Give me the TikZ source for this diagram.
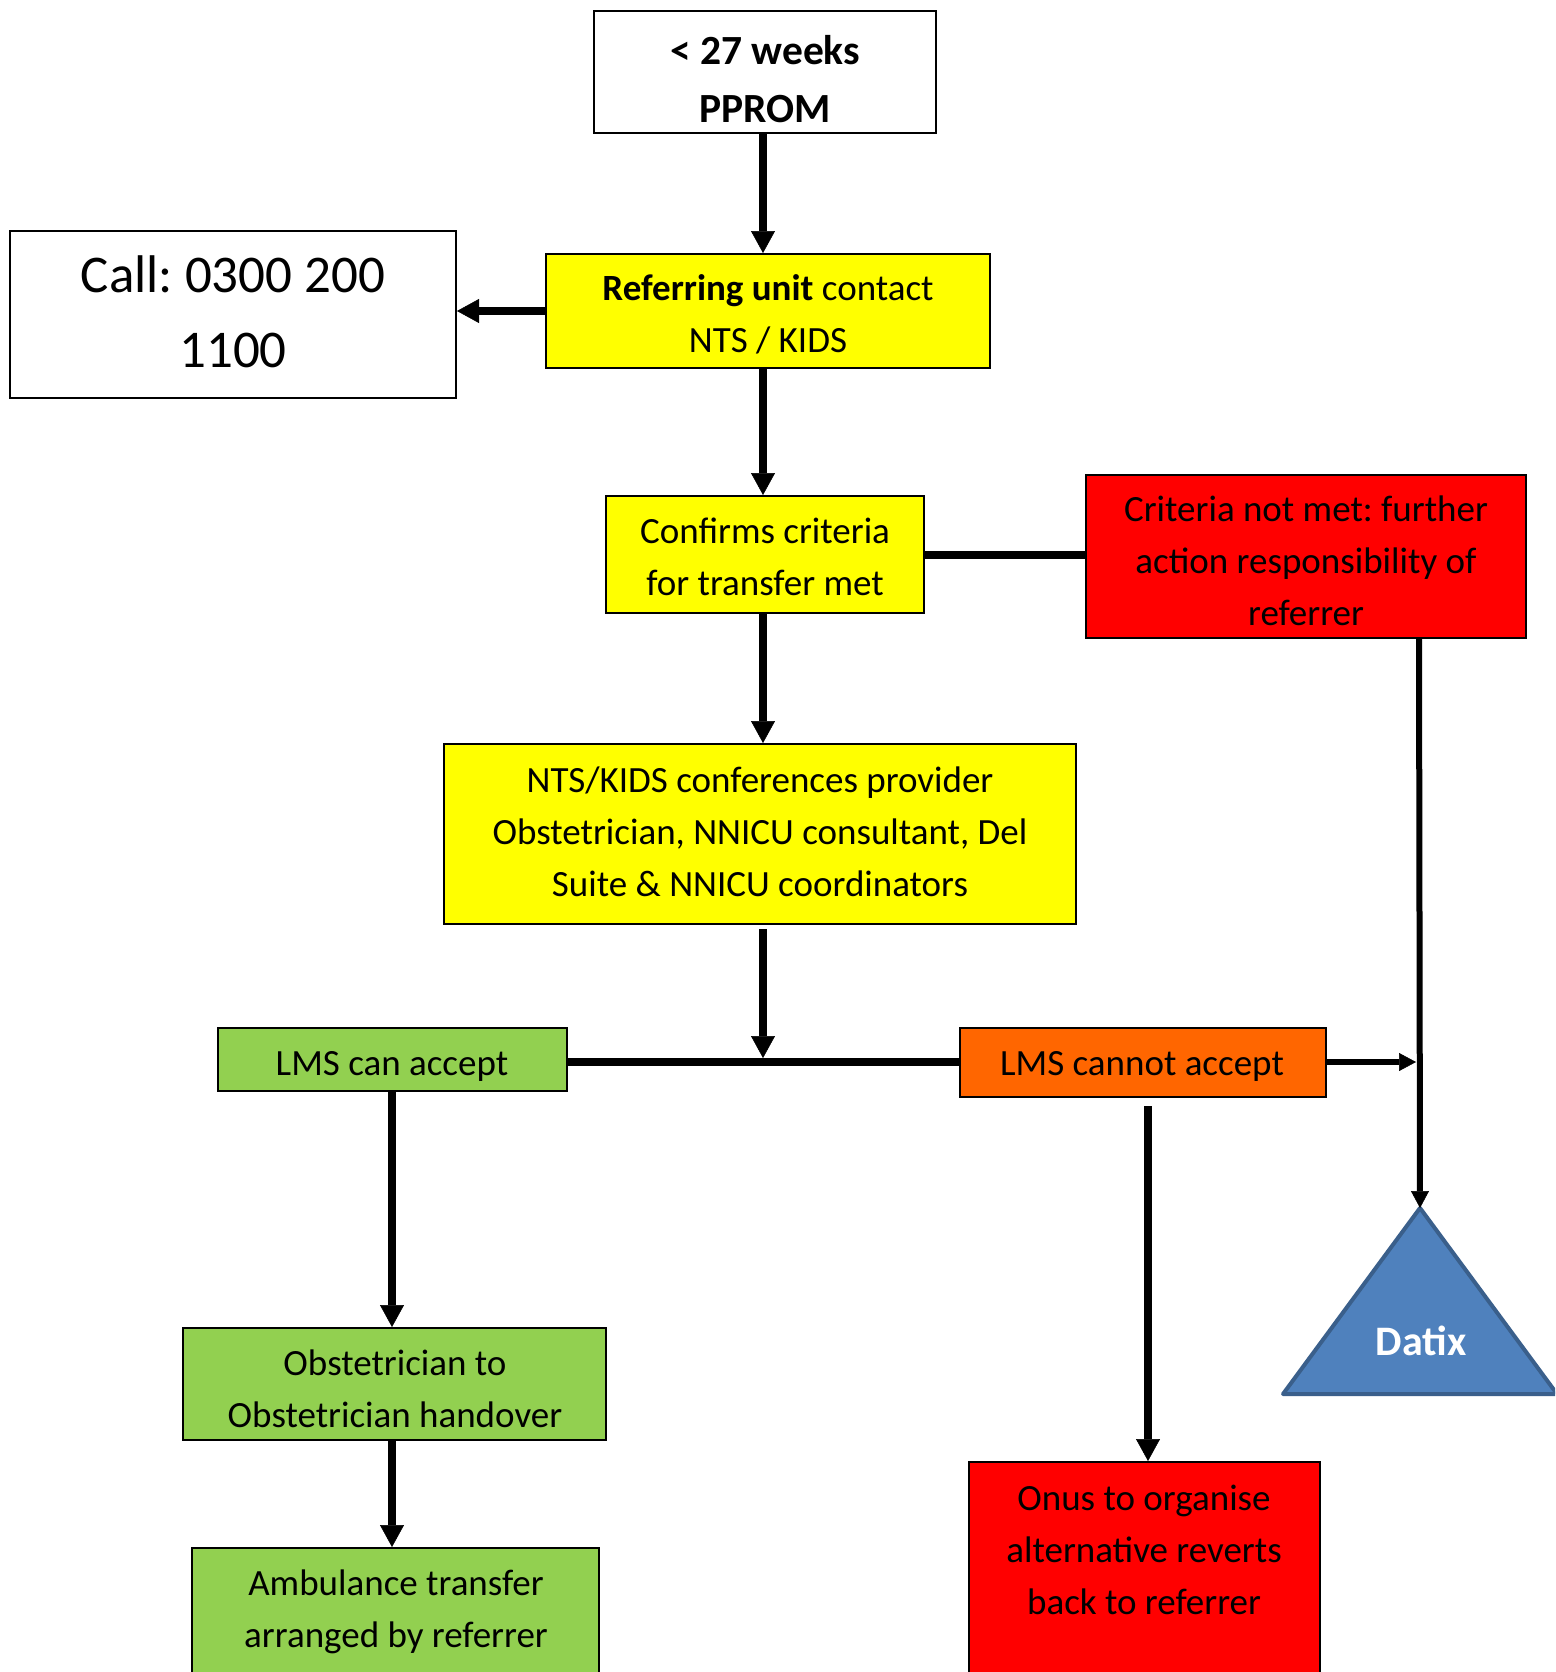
\documentclass[tikz,border=0pt]{standalone}
\usepackage{fontspec}
\setmainfont{Carlito}
\usetikzlibrary{arrows.meta,calc}
\frenchspacing
\definecolor{boxyellow}{HTML}{FFFF00}
\definecolor{boxred}{HTML}{FF0000}
\definecolor{boxgreen}{HTML}{92D050}
\definecolor{boxorange}{HTML}{FF6600}
\definecolor{datixfill}{HTML}{4F81BD}
\definecolor{datixline}{HTML}{3A5F8B}
\tikzset{
  box/.style={draw=black, line width=2pt, inner sep=0pt},
  txt/.style={align=center, inner sep=0pt, text=black},
  normtxt/.style={txt, font=\fontsize{37}{52}\selectfont},
  bigarrow/.style={line width=8pt, -{Triangle[width=24pt,length=22pt,line width=0.5pt]}},
  bigline/.style={line width=8pt},
  smallarrow/.style={line width=6pt, -{Triangle[width=18pt,length=17pt,line width=0.5pt]}},
}
\begin{document}
\begin{tikzpicture}[x=1pt,y=-1pt]
\useasboundingbox (0,0) rectangle (1555,1672);
\clip (0,0) rectangle (1555,1672);
\fill[white] (0,0) rectangle (1555,1672);

% boxes
\node[box, fill=white, minimum width=342pt, minimum height=122pt] (top) at (765,72) {};
\node[box, fill=white, minimum width=446pt, minimum height=167pt] (call) at (233,314.5) {};
\node[box, fill=boxyellow, minimum width=444pt, minimum height=114pt] (ref) at (768,311) {};
\node[box, fill=boxyellow, minimum width=318pt, minimum height=117pt] (conf) at (765,554.5) {};
\node[box, fill=boxred, minimum width=440pt, minimum height=163pt] (crit) at (1306,556.5) {};
\node[box, fill=boxyellow, minimum width=632pt, minimum height=180pt] (nts) at (760,834) {};
\node[box, fill=boxgreen, minimum width=349pt, minimum height=63pt] (lmscan) at (392.5,1059.5) {};
\node[box, fill=boxorange, minimum width=366pt, minimum height=69pt] (lmsnot) at (1143,1062.5) {};
\node[box, fill=boxgreen, minimum width=423pt, minimum height=112pt] (obst) at (394.5,1384) {};
\node[box, fill=boxgreen, minimum width=407pt, minimum height=152pt] (amb) at (395.5,1624) {};
\node[box, fill=boxred, minimum width=351pt, minimum height=238pt] (onus) at (1144.5,1581) {};

% Datix triangle
\coordinate (datixtop) at (1420,1208);
\coordinate (datixleft) at (1283,1394);
\coordinate (datixright) at (1557,1394);
\filldraw[fill=datixfill, draw=datixline, line width=4pt, line join=round] (datixtop) -- (datixleft) -- (datixright) -- cycle;

% texts
\node[txt, font=\fontsize{41.5}{58}\selectfont\bfseries] (topT) at (765,81.5) {\strut< 27 weeks\\\strut PPROM};
\node[txt, font=\fontsize{53}{75}\selectfont] (callT) at (233,315) {\strut Call: 0300 200\\\strut 1100};
\node[normtxt] (refT) at (768,316.5) {\strut\textbf{Referring unit} contact\\\strut NTS / KIDS};
\node[normtxt] (confT) at (765,559) {\strut Confirms criteria\\\strut for transfer met};
\node[normtxt] (critT) at (1306,563.5) {\strut Criteria not met: further\\\strut action responsibility of\\\strut referrer};
\node[normtxt] (ntsT) at (760,834.5) {\strut NTS/KIDS conferences provider\\\strut Obstetrician, NNICU consultant, Del\\\strut Suite \& NNICU coordinators};
\node[normtxt] (lmscanT) at (392,1065.5) {\strut LMS can accept};
\node[normtxt] (lmsnotT) at (1142,1065.5) {\strut LMS cannot accept};
\node[normtxt] (obstT) at (395,1391.5) {\strut Obstetrician to\\\strut Obstetrician handover};
\node[normtxt] (ambT) at (396,1611.5) {\strut Ambulance transfer\\\strut arranged by referrer};
\node[normtxt] (onusT) at (1144,1552.5) {\strut Onus to organise\\\strut alternative reverts\\\strut back to referrer};
\node[txt, text=white, font=\fontsize{42}{58}\selectfont\bfseries] (datixT) at (1421,1344) {\strut Datix};

% helper coordinates
\coordinate (spine) at (763,0);
\coordinate (rx) at (1419,0);
\coordinate (lx) at (392,0);
\coordinate (ox) at (1148,0);
\coordinate (junction) at (763,1062);
\coordinate (junctiontip) at (763,1058);
\coordinate (ntsstart) at (763,929);
\coordinate (notstart) at (1148,1106);
\coordinate (righttip) at (1416,1062);

% connectors
\draw[bigarrow] (top.south -| spine) -- (ref.north -| spine);
\draw[bigarrow] (ref.west) -- (ref.west -| call.east);
\draw[bigarrow] (ref.south -| spine) -- (conf.north -| spine);
\draw[bigarrow] (conf.south -| spine) -- (nts.north -| spine);
\draw[bigline] (conf.east) -- (conf.east -| crit.west);
\draw[smallarrow] (crit.south -| rx) -- (datixtop);
\draw[bigline] (lmscan.east |- junction) -- (lmsnot.west |- junction);
\draw[bigarrow] (ntsstart) -- (junctiontip);
\draw[smallarrow] (lmsnot.east |- junction) -- (righttip);
\draw[bigarrow] (lmscan.south -| lx) -- (obst.north -| lx);
\draw[bigarrow] (notstart) -- (onus.north -| ox);
\draw[bigarrow] (obst.south -| lx) -- (amb.north -| lx);
\end{tikzpicture}
\end{document}
